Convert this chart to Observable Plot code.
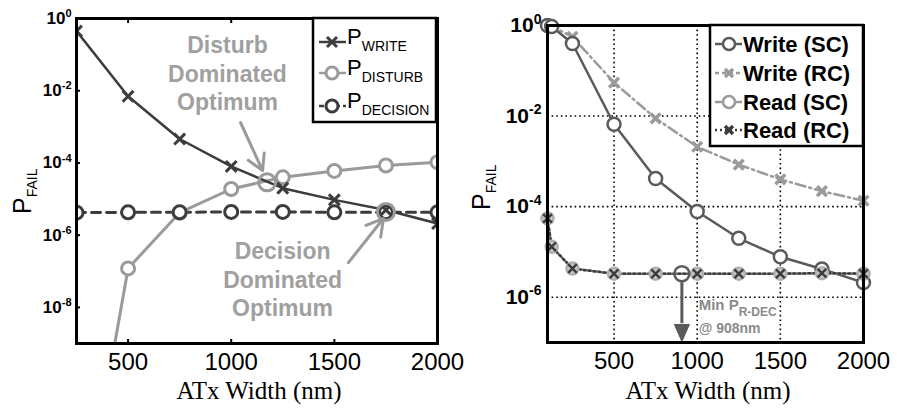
<!DOCTYPE html>
<html><head><meta charset="utf-8">
<script src="https://cdn.jsdelivr.net/npm/d3@7"></script>
<script src="https://cdn.jsdelivr.net/npm/@observablehq/plot@0.6"></script>
<style>
body{margin:0;background:#fff;}
#wrap{position:relative;width:897px;height:409px;overflow:hidden;}
#left{position:absolute;left:0;top:0;width:448px;height:409px;}
#right{position:absolute;left:448px;top:0;width:449px;height:409px;}
svg{overflow:visible;}
</style></head><body><div id="wrap"><div id="left"></div><div id="right"></div></div>
<script>
// ---------- LEFT PANEL DATA ----------
const widthsL   = [250, 500, 750, 1000, 1250, 1500, 1750, 2000];
const pWrite    = [0.45, 7e-3, 4.6e-4, 8e-5, 2e-5, 9.5e-6, 5e-6, 2.1e-6];
const pDisturb  = [1e-15, 1.2e-7, 4.2e-6, 1.9e-5, 4e-5, 6e-5, 8.5e-5, 1.05e-4];
const pDecision = [4.2e-6, 4.3e-6, 4.3e-6, 4.4e-6, 4.4e-6, 4.3e-6, 4.3e-6, 4.3e-6];
const optimaX   = [1174, 1750];
const optimaY   = [2.9e-5, 4.4e-6];
const ticksXL   = [500, 1000, 1500, 2000];
const ticksYL   = [1, 1e-2, 1e-4, 1e-6, 1e-8];
const notesL    = [
  {text: "Disturb\nDominated\nOptimum", x: 982, y: 10 ** -1.5},
  {text: "Decision\nDominated\nOptimum", x: 1249, y: 10 ** -7.2}
];
const arrowsL   = [
  {x1: 1045, y1: 10 ** -2.88, x2: 1152, y2: 10 ** -4.21},
  {x1: 1568, y1: 10 ** -6.76, x2: 1738, y2: 10 ** -5.54}
];

// ---------- RIGHT PANEL DATA ----------
const widthsR  = [100, 125, 250, 500, 750, 1000, 1250, 1500, 1750, 2000];
const writeSC  = [1.0, 0.95, 0.40, 6.6e-3, 4.2e-4, 7.8e-5, 2.0e-5, 7.8e-6, 4.2e-6, 2.1e-6];
const writeRC  = [1.0, 0.97, 0.56, 0.055, 8.9e-3, 2.1e-3, 8.5e-4, 4.0e-4, 2.2e-4, 1.35e-4];
const readSC   = [5.5e-5, 1.3e-5, 4.3e-6, 3.3e-6, 3.3e-6, 3.3e-6, 3.3e-6, 3.3e-6, 3.4e-6, 3.3e-6];
const readRC   = [5.5e-5, 1.3e-5, 4.3e-6, 3.3e-6, 3.3e-6, 3.3e-6, 3.3e-6, 3.3e-6, 3.4e-6, 3.3e-6];
const minDecX  = [908];
const minDecY  = [3.3e-6];
const ticksXR  = [500, 1000, 1500, 2000];
const ticksYR  = [1, 1e-2, 1e-4, 1e-6];
const gridXR   = [500, 1000, 1500];
const gridYR   = [1e-2, 1e-4, 1e-6];

const FONT = "Liberation Sans, Arial, Helvetica, sans-serif";
const SERIF = "Liberation Serif, Times New Roman, serif";
const DARK = "#3c3c3c", MID = "#5a5a5a", LIGHT = "#9a9a9a";

const rows = (xs, ys) => xs.map((x, i) => ({x, y: ys[i]}));
const fmtExp = d => "10^" + Math.round(Math.log10(d));
const fmtNum = d => String(d);

function supTicks(svg, fs) {
  d3.select(svg).selectAll('g[aria-label="y-axis tick label"] text').each(function() {
    const [b, e] = this.textContent.split("^");
    const s = d3.select(this); s.text(null);
    s.append("tspan").text(b);
    s.append("tspan").attr("dy", "-0.62em").attr("font-size", fs).text(e);
  });
}
function subText(g, x, y, main, sub, opt) {
  const t = g.append("text").attr("x", x).attr("y", y)
    .attr("font-family", FONT).attr("font-size", opt.fs).attr("fill", opt.fill || "#000")
    .attr("font-weight", opt.fw || "normal")
    .attr("transform", opt.rotate ? `rotate(-90 ${x} ${y})` : null)
    .attr("text-anchor", opt.anchor || "start");
  t.append("tspan").text(main);
  t.append("tspan").attr("dy", opt.dy).attr("font-size", opt.sfs).text(sub);
  return t;
}

// ---------- LEFT PLOT ----------
const L = Plot.plot({
  width: 448, height: 409,
  marginLeft: 76, marginRight: 11, marginTop: 18, marginBottom: 66,
  style: {fontFamily: FONT, background: "transparent", overflow: "visible", color: "#000"},
  x: {domain: [250, 2000]},
  y: {type: "log", domain: [1e-9, 1]},
  marks: [
    Plot.axisX({ticks: ticksXL, tickSize: 0, tickPadding: 9, fontSize: 24, tickFormat: fmtNum, label: null}),
    Plot.axisY({ticks: ticksYL, tickSize: 0, tickPadding: 5, fontSize: 17, fontWeight: "bold", tickFormat: fmtExp, label: null}),
    Plot.axisY({ticks: ticksYL, tickSize: -4, strokeWidth: 2, tickFormat: () => "", label: null}),
    Plot.axisX({ticks: ticksXL, tickSize: -4, strokeWidth: 2, anchor: "top", tickFormat: () => "", label: null}),
    Plot.axisX({ticks: ticksXL, tickSize: -4, strokeWidth: 2, anchor: "bottom", tickFormat: () => "", label: null}),
    Plot.line(rows(widthsL, pDisturb), {x: "x", y: "y", stroke: LIGHT, strokeWidth: 3, clip: true}),
    Plot.line(rows(widthsL, pWrite), {x: "x", y: "y", stroke: DARK, strokeWidth: 2.5, clip: true}),
    Plot.line(rows(widthsL, pDecision), {x: "x", y: "y", stroke: DARK, strokeWidth: 3, strokeDasharray: "9,6", clip: true}),
    Plot.dot(rows(widthsL, pDisturb), {x: "x", y: "y", r: 6.5, stroke: LIGHT, fill: "white", strokeWidth: 3, clip: true}),
    Plot.dot(rows(widthsL, pDecision), {x: "x", y: "y", r: 6.5, stroke: DARK, fill: "white", strokeWidth: 3, clip: true}),
    Plot.dot(rows(widthsL, pWrite), {x: "x", y: "y", r: 5, symbol: "times", stroke: DARK, strokeWidth: 3, clip: true}),
    Plot.dot(rows(optimaX, optimaY), {x: "x", y: "y", r: 8.5, stroke: LIGHT, strokeWidth: 3, fill: "none"}),
    Plot.text(notesL, {x: "x", y: "y", text: "text", fontSize: 23, fontWeight: "bold", fill: "#a0a0a0", lineHeight: 1.24, lineAnchor: "middle"}),
    Plot.arrow(arrowsL, {x1: "x1", y1: "y1", x2: "x2", y2: "y2", stroke: LIGHT, strokeWidth: 3, headLength: 13}),
    Plot.frame({stroke: "#000", strokeWidth: 3})
  ]
});
document.getElementById("left").appendChild(L);
supTicks(L, 11);
{
  const g = d3.select(L).append("g");
  subText(g, 31, 214, "P", "FAIL", {fs: 25, sfs: 14, dy: "0.45em", rotate: true});
  g.append("text").attr("x", 259).attr("y", 399).attr("text-anchor", "middle")
    .attr("font-family", SERIF).attr("font-size", 25).text("ATx Width (nm)");
  g.append("rect").attr("x", 313).attr("y", 18).attr("width", 123).attr("height", 104)
    .attr("fill", "white").attr("stroke", "#000").attr("stroke-width", 2.5);
  const items = [
    {sub: "WRITE", c: DARK, sym: "x", dash: null, y: 42},
    {sub: "DISTURB", c: LIGHT, sym: "o", dash: null, y: 73},
    {sub: "DECISION", c: DARK, sym: "o", dash: "5,3", y: 106}
  ];
  items.forEach(it => {
    g.append("line").attr("x1", 319).attr("x2", 346).attr("y1", it.y).attr("y2", it.y)
      .attr("stroke", it.c).attr("stroke-width", 2.5).attr("stroke-dasharray", it.dash);
    if (it.sym === "o") g.append("circle").attr("cx", 332).attr("cy", it.y).attr("r", 6)
      .attr("fill", "white").attr("stroke", it.c).attr("stroke-width", 3);
    else g.append("path").attr("d", `M${327},${it.y-5}L${337},${it.y+5}M${327},${it.y+5}L${337},${it.y-5}`)
      .attr("stroke", it.c).attr("stroke-width", 3);
    subText(g, 347, it.y + 2, "P", it.sub, {fs: 22, sfs: 14, dy: "0.5em"});
  });
}

// ---------- RIGHT PLOT ----------
const downTri = {draw(ctx) { ctx.moveTo(-7.5, -18); ctx.lineTo(7.5, -18); ctx.lineTo(0, -1); ctx.closePath(); }};
const R = Plot.plot({
  width: 449, height: 409,
  marginLeft: 99, marginRight: 34, marginTop: 25, marginBottom: 67,
  style: {fontFamily: FONT, background: "transparent", overflow: "visible", color: "#000"},
  x: {domain: [100, 2000]},
  y: {type: "log", domain: [1e-7, 1]},
  marks: [
    Plot.ruleX(gridXR, {stroke: "#000", strokeWidth: 1.6, strokeDasharray: "1.6,3"}),
    Plot.ruleY(gridYR, {stroke: "#000", strokeWidth: 1.6, strokeDasharray: "1.6,3"}),
    Plot.axisX({ticks: ticksXR, tickSize: 0, tickPadding: 9, fontSize: 24, tickFormat: fmtNum, label: null}),
    Plot.axisY({ticks: ticksYR, tickSize: 0, tickPadding: 6, fontSize: 21, fontWeight: "bold", tickFormat: fmtExp, label: null}),
    Plot.line(rows(widthsR, writeRC), {x: "x", y: "y", stroke: LIGHT, strokeWidth: 2.5, strokeDasharray: "10,4,2,4", clip: true}),
    Plot.line(rows(widthsR, writeSC), {x: "x", y: "y", stroke: MID, strokeWidth: 2.5, clip: true}),
    Plot.line(rows(widthsR, readSC), {x: "x", y: "y", stroke: LIGHT, strokeWidth: 2.5, clip: true}),
    Plot.line(rows(widthsR, readRC), {x: "x", y: "y", stroke: DARK, strokeWidth: 2.5, strokeDasharray: "2,3", clip: true}),
    Plot.dot(rows(widthsR, writeRC), {x: "x", y: "y", r: 4.5, symbol: "times", stroke: LIGHT, strokeWidth: 3.5}),
    Plot.dot(rows(widthsR, writeSC), {x: "x", y: "y", r: 6.5, stroke: MID, fill: "white", strokeWidth: 2.5}),
    Plot.dot(rows(widthsR, readSC), {x: "x", y: "y", r: 6, stroke: "#b0b0b0", fill: "#c8c8c8", strokeWidth: 2.5}),
    Plot.dot(rows(widthsR, readRC), {x: "x", y: "y", r: 4, symbol: "times", stroke: DARK, strokeWidth: 2.5}),
    Plot.dot(rows(minDecX, minDecY), {x: "x", y: "y", r: 7.5, stroke: MID, fill: "none", strokeWidth: 2.5}),
    Plot.ruleX(minDecX, {y1: 2.1e-6, y2: 2.6e-7, stroke: MID, strokeWidth: 3}),
    Plot.dot(minDecX, {x: d => d, y: () => 1e-7, symbol: downTri, fill: MID, stroke: MID, strokeWidth: 1}),
    Plot.frame({stroke: "#000", strokeWidth: 3})
  ]
});
document.getElementById("right").appendChild(R);
supTicks(R, 14);
{
  const g = d3.select(R).append("g");
  const xs = R.scale("x"), ys = R.scale("y");
  subText(g, 42, 210, "P", "FAIL", {fs: 25, sfs: 14, dy: "0.45em", rotate: true});
  g.append("text").attr("x", 260).attr("y", 399).attr("text-anchor", "middle")
    .attr("font-family", SERIF).attr("font-size", 25).text("ATx Width (nm)");
  const ax = xs.apply(1000) + 2;
  subText(g, ax, ys.apply(10 ** -6.29), "Min P", "R-DEC", {fs: 15, sfs: 12, dy: "0.55em", fw: "bold", fill: "#8a8a8a"});
  g.append("text").attr("x", ax).attr("y", ys.apply(10 ** -6.8)).attr("font-family", FONT)
    .attr("text-anchor", "start")
    .attr("font-size", 14).attr("font-weight", "bold").attr("fill", "#8a8a8a").text("@ 908nm");
  g.append("rect").attr("x", 262).attr("y", 25).attr("width", 153).attr("height", 121)
    .attr("fill", "white").attr("stroke", "#000").attr("stroke-width", 2.5);
  const items = [
    {t: "Write (SC)", c: MID, sym: "o", dash: null, y: 44},
    {t: "Write (RC)", c: LIGHT, sym: "x", dash: "4,3", y: 73},
    {t: "Read (SC)", c: LIGHT, sym: "o", dash: null, y: 102},
    {t: "Read (RC)", c: DARK, sym: "x", dash: "2,3", y: 130}
  ];
  items.forEach(it => {
    g.append("line").attr("x1", 267).attr("x2", 294).attr("y1", it.y).attr("y2", it.y)
      .attr("stroke", it.c).attr("stroke-width", 2.5).attr("stroke-dasharray", it.dash);
    if (it.sym === "o") g.append("circle").attr("cx", 281).attr("cy", it.y).attr("r", 6)
      .attr("fill", "white").attr("stroke", it.c).attr("stroke-width", 2.5);
    else g.append("path").attr("d", `M${277},${it.y-4}L${285},${it.y+4}M${277},${it.y+4}L${285},${it.y-4}`)
      .attr("stroke", it.c).attr("stroke-width", 3.5);
    g.append("text").attr("x", 295).attr("y", it.y + 8).attr("font-family", FONT)
      .attr("text-anchor", "start")
      .attr("font-size", 22).attr("font-weight", "bold").text(it.t);
  });
}
</script></body></html>
